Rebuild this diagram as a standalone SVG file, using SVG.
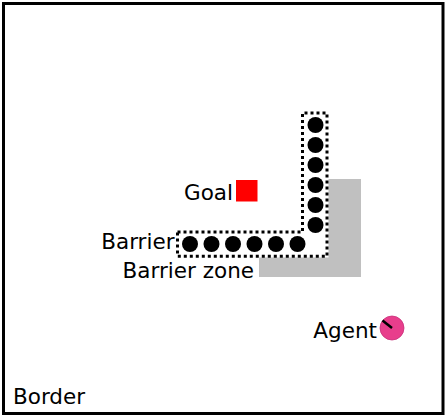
<svg xmlns="http://www.w3.org/2000/svg" width="447" height="417" viewBox="0 0 447 417">
<style>
text{font-family:"DejaVu Sans",sans-serif;font-size:21.5px;fill:#000}
.dot{fill:#000}
.zone{fill:#c0c0c0}
.barrier{fill:none;stroke:#000;stroke-width:3;stroke-dasharray:3 3}
</style>
<rect width="447" height="417" fill="#fff"/>
<g id="border">
<rect x="3.5" y="3.5" width="439.5" height="410" fill="none" stroke="#000" stroke-width="3"/>
<text x="13" y="404">Border</text>
</g>
<g id="barrier-zone">
<polygon class="zone" points="328.5,179 361,179 361,277 259,277 259,257.5 328.5,257.5"/>
<text x="254" y="278" text-anchor="end">Barrier zone</text>
</g>
<g id="barrier">
<path class="barrier" d="M177.5,232 H302.5 V113 H327 V256.3 H177.5 Z"/>
<circle class="dot" cx="190" cy="244" r="8"/>
<circle class="dot" cx="211.5" cy="244" r="8"/>
<circle class="dot" cx="233" cy="244" r="8"/>
<circle class="dot" cx="254.5" cy="244" r="8"/>
<circle class="dot" cx="276" cy="244" r="8"/>
<circle class="dot" cx="297.5" cy="244" r="8"/>
<circle class="dot" cx="315.5" cy="125" r="8"/>
<circle class="dot" cx="315.5" cy="145" r="8"/>
<circle class="dot" cx="315.5" cy="165" r="8"/>
<circle class="dot" cx="315.5" cy="185" r="8"/>
<circle class="dot" cx="315.5" cy="205" r="8"/>
<circle class="dot" cx="315.5" cy="225" r="8"/>
<text x="174.5" y="249" text-anchor="end">Barrier</text>
</g>
<g id="goal">
<rect x="236" y="180" width="21.5" height="21.5" fill="#ff0000"/>
<text x="233" y="200" text-anchor="end">Goal</text>
</g>
<g id="agent">
<circle cx="392" cy="328" r="12" fill="#e83e8c" stroke="#c8307a" stroke-width="0.8"/>
<line x1="392" y1="328" x2="382.5" y2="320.5" stroke="#000" stroke-width="2.5"/>
<text x="377" y="338" text-anchor="end">Agent</text>
</g>
</svg>
